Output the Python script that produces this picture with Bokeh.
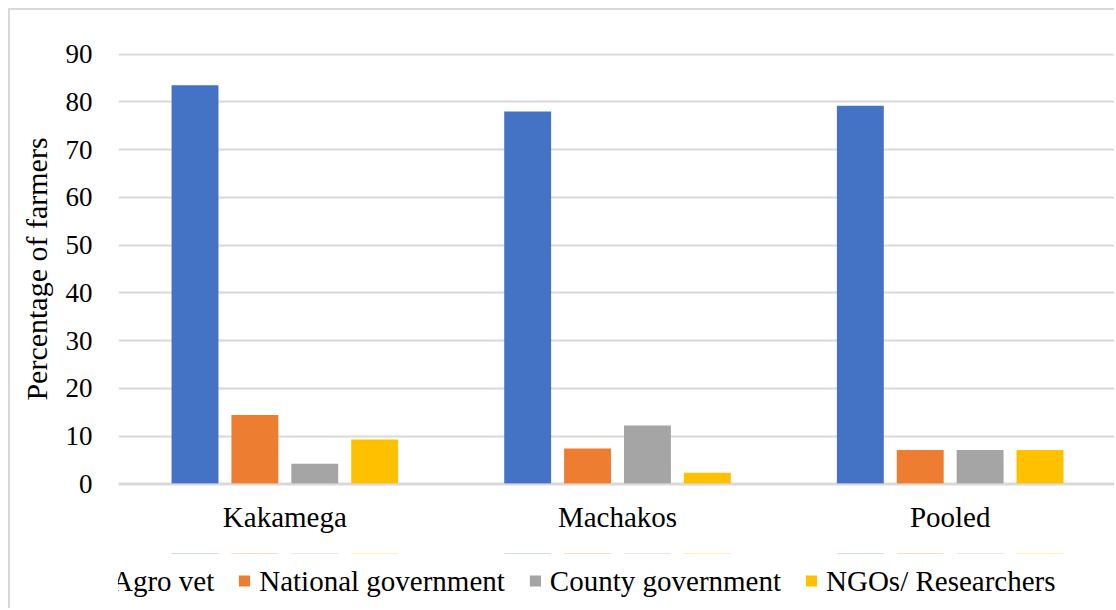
from bokeh.plotting import figure
from bokeh.models import (ColumnDataSource, FactorRange, Range1d, Legend, LegendItem,
                          FixedTicker)
from bokeh.layouts import column
from bokeh.transform import dodge
from bokeh.embed import file_html
from bokeh.resources import INLINE

# ---- data ----
categories = ["Kakamega", "Machakos", "Pooled"]
series_names = ["Agro vet", "National government", "County government", "NGOs/ Researchers"]
agro_vet = [83.5, 78.0, 79.2]
national_government = [14.4, 7.4, 7.1]
county_government = [4.2, 12.2, 7.1]
ngos_researchers = [9.3, 2.3, 7.1]
y_ticks = [0, 10, 20, 30, 40, 50, 60, 70, 80, 90]

colors = ["#4472C4", "#ED7D31", "#A5A5A5", "#FFC000"]
FONT = "Liberation Serif"
GRID = "#D9D9D9"

source = ColumnDataSource(dict(
    cat=categories,
    agro=agro_vet,
    nat=national_government,
    county=county_government,
    ngo=ngos_researchers,
))
fields = ["agro", "nat", "county", "ngo"]
offsets = [-0.27, -0.09, 0.09, 0.27]

# ---- main chart (placed at (10,10) inside the light-grey chart-area border) ----
p = figure(
    width=1106, height=545,
    x_range=FactorRange(*categories, range_padding=0),
    y_range=Range1d(-0.15, 90.15),
    output_backend="svg", toolbar_location=None,
    min_border_left=108, min_border_right=0,
    min_border_top=43, min_border_bottom=71,
)
p.margin = (8, 0, 0, 8)
p.styles = {"border-left": f"2px solid {GRID}", "border-top": f"2px solid {GRID}"}
p.outline_line_color = None

renderers = []
for f, off, c in zip(fields, offsets, colors):
    r = p.vbar(x=dodge("cat", off, range=p.x_range), top=f, width=0.141, bottom=0,
               source=source, fill_color=c, line_color=None)
    renderers.append(r)

p.xgrid.grid_line_color = None
p.ygrid.grid_line_color = GRID
p.ygrid.grid_line_width = 2
p.yaxis.ticker = FixedTicker(ticks=y_ticks)

p.yaxis.axis_line_color = None
p.yaxis.major_tick_line_color = None
p.yaxis.minor_tick_line_color = None
p.yaxis.major_label_standoff = 20
p.yaxis.major_label_text_font = FONT
p.yaxis.major_label_text_font_size = "27px"
p.yaxis.major_label_text_color = "black"
p.yaxis.axis_label = "Percentage of farmers"
p.yaxis.axis_label_text_font = FONT
p.yaxis.axis_label_text_font_size = "30px"
p.yaxis.axis_label_text_font_style = "normal"
p.yaxis.axis_label_text_color = "black"
p.yaxis.axis_label_standoff = 10

p.xaxis.axis_line_color = GRID
p.xaxis.axis_line_width = 2
p.xaxis.major_tick_line_color = None
p.xaxis.minor_tick_line_color = None
p.xaxis.major_label_standoff = 10
p.xaxis.major_label_text_font = FONT
p.xaxis.major_label_text_font_size = "29px"
p.xaxis.major_label_text_color = "black"

# ---- legend strip below the chart (same border on the left) ----
pl = figure(
    width=1106, height=55,
    x_range=FactorRange(*categories, range_padding=0),
    y_range=Range1d(-2, -1),          # key bars have zero height and lie outside this strip
    output_backend="svg", toolbar_location=None,
    x_axis_type=None, y_axis_type=None,
    min_border_left=0, min_border_right=0, min_border_top=0, min_border_bottom=0,
)
pl.margin = (0, 0, 0, 8)
pl.styles = {"border-left": f"2px solid {GRID}"}
pl.outline_line_color = None
pl.grid.visible = False

legend_renderers = []
for f, off, c in zip(fields, offsets, colors):
    r = pl.vbar(x=dodge("cat", off, range=pl.x_range), top=f, bottom=f, width=0.141,
                source=source, fill_color=c, line_color=None)
    legend_renderers.append(r)

# invisible trailing key: shifts the visible keys left, as in the reference
ghost = pl.vbar(x=dodge("cat", 0, range=pl.x_range), top="agro", bottom="agro", width=0.141,
                source=source, fill_alpha=0, line_alpha=0)

items = [LegendItem(label=n, renderers=[r]) for n, r in zip(series_names, legend_renderers)]
items.append(LegendItem(label="\u00a0" * 6, renderers=[ghost]))
legend = Legend(items=items, orientation="horizontal", location="center",
                glyph_width=14, glyph_height=14, label_standoff=8, spacing=23,
                padding=0, margin=0, border_line_color=None, background_fill_alpha=0,
                label_text_font=FONT, label_text_font_size="29px", label_text_color="black")
pl.add_layout(legend, "center")

layout = column(p, pl, spacing=0)
open("out.html", "w").write(file_html(layout, INLINE))
